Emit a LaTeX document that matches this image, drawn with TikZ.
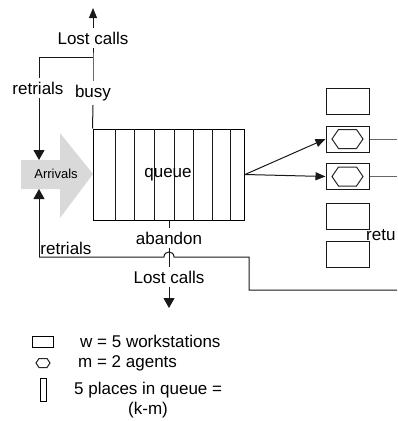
\documentclass[tikz,border=0pt]{standalone}
\usepackage{fontspec}
\setmainfont{Liberation Sans}
\usetikzlibrary{arrows.meta}
\begin{document}
\begin{tikzpicture}[x=1pt,y=-1pt,
  lbl/.style={font=\fontsize{17}{20}\selectfont, inner sep=4pt},
  legtext/.style={font=\fontsize{17}{20}\selectfont, inner sep=0pt, anchor=west},
  small/.style={font=\fontsize{13}{15}\selectfont, inner sep=1pt},
  ln/.style={line width=1pt, draw=black!90},
  grayln/.style={line width=1pt, draw=black!60},
  arr/.style={ln, -{Triangle[width=8pt,length=10pt]}},
  wide arr/.style={ln, -{Triangle[width=11pt,length=10pt]}},
  wsbox/.style={draw=black!90, line width=1pt, minimum width=43pt, minimum height=26pt, inner sep=0pt},
  hexa/.pic={\draw[line width=1pt, draw=black!85] (-15.5,0) -- (-9,-9.5) -- (9,-9.5) -- (15.5,0) -- (9,9.5) -- (-9,9.5) -- cycle;},
  hexsmall/.pic={\draw[line width=1pt, draw=black!85] (-7,0) -- (-4,-4.5) -- (4,-4.5) -- (7,0) -- (4,4.5) -- (-4,4.5) -- cycle;},
  ]
\useasboundingbox (0,0) rectangle (397,421);

% incoming calls
\fill[black!15] (21,160) -- (60,160) -- (60,133) -- (93,174) -- (60,218) -- (60,189) -- (21,189) -- cycle;
\node[small] (arrivals) at (56,174) {Arrivals};
\coordinate (arrtop) at (39,160);
\coordinate (arrbot) at (39,189);

% waiting queue with its places
\node[draw, line width=1pt, minimum width=151.5pt, minimum height=91pt, inner sep=0pt] (queue) at (168.75,174.5) {};
\foreach \x in {115,134,154,174,193,212,230}
  \draw[ln] (\x,129) -- (\x,220);
\node[lbl] (qlabel) at (168,175) {queue};

% busy: lost calls and retrials
\node[lbl] (busy) at (93,93) {busy};
\node[lbl] (lost1) at (93,38) {Lost calls};
\node[lbl] (rtop) at (38,88) {retrials};
\coordinate (toptip) at (93,8);
\coordinate (tcorner) at (93,57);
\coordinate (lcorner) at (39,57);
\draw[ln] (queue.north west) -- (busy.south);
\draw[ln] (busy.north) -- (tcorner) -- (lost1.south);
\draw[arr] (lost1.north) -- (toptip);
\draw[ln] (tcorner) -- (lcorner) -- (rtop.north -| lcorner);
\draw[wide arr] (rtop.south -| lcorner) -- (arrtop);

% abandon: lost calls
\node[lbl] (abandon) at (169,238) {abandon};
\node[lbl] (lost2) at (169,277) {Lost calls};
\coordinate (bottip) at (169,308);
\draw[ln] (abandon.north |- queue.south) -- (abandon.north);
\draw[ln] (abandon.south) -- (lost2.north);
\draw[wide arr] (lost2.south) -- (bottip);

% workstations and agents
\node[wsbox] (w1) at (347.5,101) {};
\node[wsbox] (w2) at (347.5,139) {};
\node[wsbox] (w3) at (347.5,176.5) {};
\node[wsbox] (w4) at (347.5,216) {};
\node[wsbox] (w5) at (347.5,254.5) {};
\pic at (w2) {hexa};
\pic at (w3) {hexa};
\draw[arr] (queue.east) -- (w2.west);
\draw[arr] (queue.east) -- (w3.west);
\coordinate (out2) at (397,139);
\coordinate (out3) at (397,176.5);
\draw[grayln] (w2.east) -- (out2);
\draw[grayln] (w3.east) -- (out3);
\node[lbl, anchor=west, inner sep=1pt] (ret) at (365,235) {retu};

% retrials after abandon
\node[lbl] (rbot) at (66,248) {retrials};
\coordinate (bl) at (39,257);
\coordinate (hopa) at (164,257);
\coordinate (hopb) at (174,257);
\coordinate (rc1) at (249,257);
\coordinate (rc2) at (249,290);
\coordinate (rend) at (397,290);
\draw[wide arr] (bl) -- (arrbot);
\draw[ln] (bl) -- (hopa) .. controls (164,250.3) and (174,250.3) .. (hopb) -- (rc1) -- (rc2) -- (rend);

% legend
\node[draw, line width=1pt, minimum width=21pt, minimum height=11pt, inner sep=0pt] (lrect) at (42.5,341.5) {};
\pic at (43,363) {hexsmall};
\node[draw, line width=1pt, minimum width=6pt, minimum height=23pt, inner sep=0pt] (lbar) at (43,389.5) {};
\node[legtext] (t1) at (80,341.5) {w = 5 workstations};
\node[legtext] (t2) at (78,363.5) {m = 2 agents};
\node[legtext] (t3) at (74,390.5) {5 places in queue =};
\node[lbl, inner sep=0pt] (t4) at (148,410.5) {(k-m)};
\end{tikzpicture}
\end{document}
